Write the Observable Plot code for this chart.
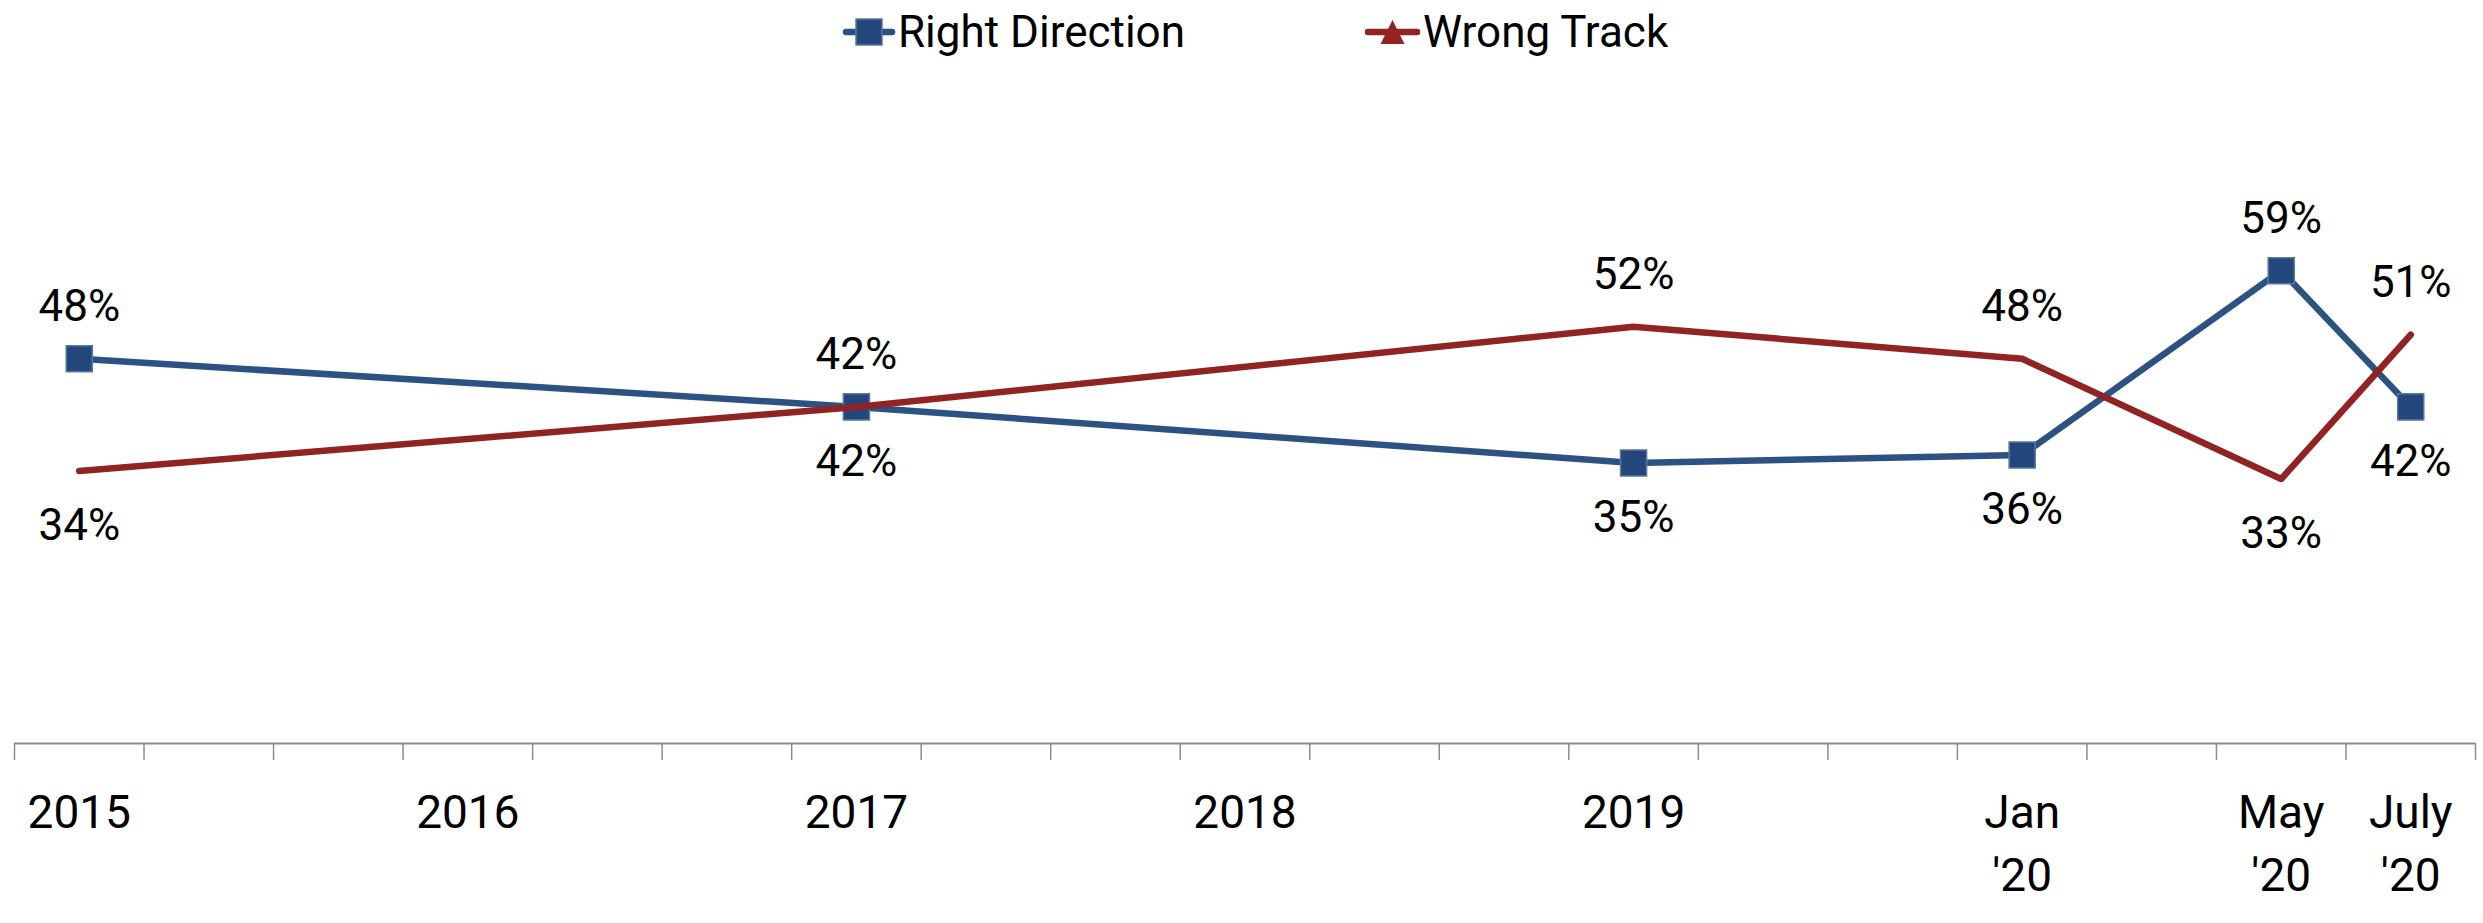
<!DOCTYPE html>
<html>
<head>
<meta charset="utf-8">
<script src="https://cdn.jsdelivr.net/npm/d3@7"></script>
<script src="https://cdn.jsdelivr.net/npm/@observablehq/plot@0.6"></script>
<style>
  body { margin: 0; background: #fff; font-family: Roboto, "Liberation Sans", sans-serif; }
  #legend { position: relative; width: 2483px; height: 60px; }
  .item { position: absolute; top: 0; height: 64px; display: flex; align-items: center; gap: 3px;
          font-size: 44px; color: #000; white-space: nowrap; }
  .item svg { display: block; overflow: visible; }
</style>
</head>
<body>
<div id="legend"></div>
<div id="chart"></div>
<script>
// ---- data ----
const periods = ["2015", "2016", "2017", "2018", "2019", "Jan\n'20", "May\n'20", "July\n'20"];
const periodSlots = [0, 3, 6, 9, 12, 15, 17, 18];   // position of each period on the 19-slot category axis
const slotCount = 19;
const surveyPeriods = ["2015", "2017", "2019", "Jan\n'20", "May\n'20", "July\n'20"];
const rightDirection = [48, 42, 35, 36, 59, 42];
const wrongTrack = [34, 42, 52, 48, 33, 51];
const seriesNames = ["Right Direction", "Wrong Track"];

// ---- styles ----
const blue = "#2b5282";
const blueFill = "#23477a";
const blueEdge = "#5877a2";
const red = "#922323";
const gray = "#8c8c8c";

// ---- build table ----
const slotOf = p => periodSlots[periods.indexOf(p)];
const rows = [];
surveyPeriods.forEach((p, i) => {
  const rd = rightDirection[i], wt = wrongTrack[i];
  rows.push({series: seriesNames[0], period: p, slot: slotOf(p), value: rd, above: rd >= wt});
  rows.push({series: seriesNames[1], period: p, slot: slotOf(p), value: wt, above: wt > rd});
});
const rdRows = rows.filter(d => d.series === seriesNames[0]);
const wtRows = rows.filter(d => d.series === seriesNames[1]);
const boundaries = d3.range(slotCount + 1).map(i => i - 0.5);

const chart = Plot.plot({
  width: 2483,
  height: 863,
  marginTop: 122,
  marginBottom: 180,
  marginLeft: 14,
  marginRight: 8,
  style: {fontFamily: "Roboto, 'Liberation Sans', sans-serif", fontSize: "46px", background: "#fff", color: "#000", overflow: "visible"},
  x: {type: "linear", domain: [-0.5, slotCount - 0.5]},
  y: {domain: [0, 70], axis: null},
  marks: [
    Plot.axisX(boundaries, {tickSize: 17, tickFormat: () => "", stroke: gray, strokeWidth: 1.5, label: null}),
    Plot.axisX(periodSlots, {
      tickSize: 0, tickPadding: 40, label: null, fontSize: 46, lineHeight: 1.37,
      tickFormat: d => periods[periodSlots.indexOf(d)], fill: "#000"
    }),
    Plot.ruleY([0], {stroke: gray, strokeWidth: 1.8}),
    Plot.line(rdRows, {x: "slot", y: "value", stroke: blue, strokeWidth: 6.5, strokeLinejoin: "round", strokeLinecap: "round"}),
    Plot.dot(rdRows, {x: "slot", y: "value", symbol: "square", r: 14.7, fill: blueFill, stroke: blueEdge, strokeWidth: 1.5}),
    Plot.line(wtRows, {x: "slot", y: "value", stroke: red, strokeWidth: 6.5, strokeLinejoin: "round", strokeLinecap: "round"}),
    Plot.text(rows.filter(d => d.above), {x: "slot", y: "value", text: d => d.value + "%", dy: -52, lineAnchor: "middle", fontSize: 44, fill: "#000"}),
    Plot.text(rows.filter(d => !d.above), {x: "slot", y: "value", text: d => d.value + "%", dy: 55, lineAnchor: "middle", fontSize: 44, fill: "#000"})
  ]
});
document.getElementById("chart").appendChild(chart);

// ---- legend ----
const legend = document.getElementById("legend");
const ns = "http://www.w3.org/2000/svg";
function swatch(color, kind, w) {
  const s = document.createElementNS(ns, "svg");
  s.setAttribute("width", w); s.setAttribute("height", 30);
  const l = document.createElementNS(ns, "line");
  l.setAttribute("x1", 3); l.setAttribute("x2", w - 3); l.setAttribute("y1", 15); l.setAttribute("y2", 15);
  l.setAttribute("stroke", color); l.setAttribute("stroke-width", 6.5); l.setAttribute("stroke-linecap", "round");
  s.appendChild(l);
  if (kind === "square") {
    const r = document.createElementNS(ns, "rect");
    r.setAttribute("x", w / 2 - 13); r.setAttribute("y", 2); r.setAttribute("width", 26); r.setAttribute("height", 26);
    r.setAttribute("fill", blueFill); r.setAttribute("stroke", blueEdge); r.setAttribute("stroke-width", 1.5);
    s.appendChild(r);
  } else {
    const p = document.createElementNS(ns, "path");
    const c = w / 2;
    p.setAttribute("d", `M${c},3L${c + 12},27L${c - 12},27Z`);
    p.setAttribute("fill", red);
    s.appendChild(p);
  }
  return s;
}
[[seriesNames[0], blue, "square", 52, 843], [seriesNames[1], red, "triangle", 55, 1365]].forEach(([name, color, kind, w, left]) => {
  const item = document.createElement("div");
  item.className = "item";
  item.style.left = left + "px";
  item.appendChild(swatch(color, kind, w));
  const t = document.createElement("span");
  t.textContent = name;
  item.appendChild(t);
  legend.appendChild(item);
});
</script>
</body>
</html>
